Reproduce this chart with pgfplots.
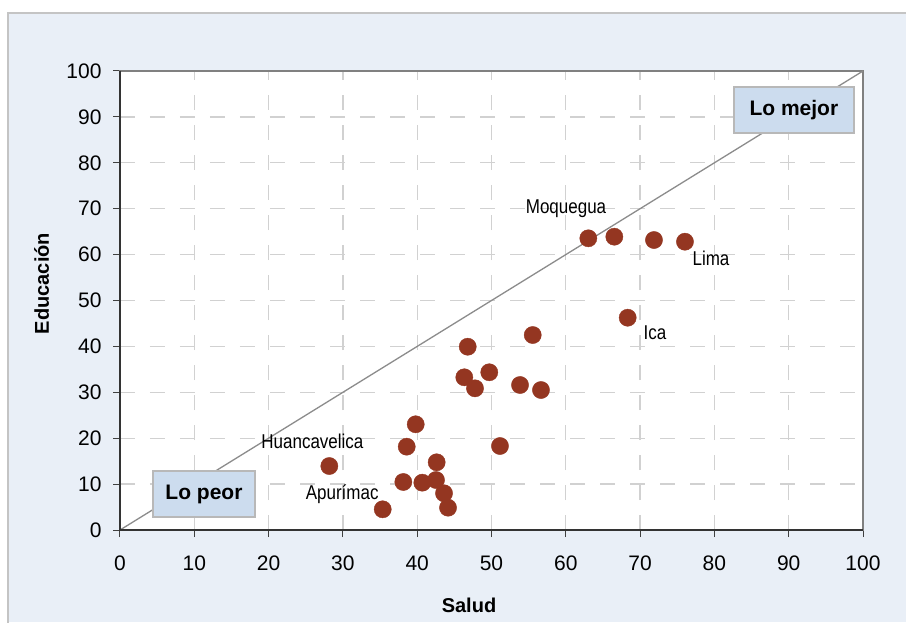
\documentclass[border=0pt]{standalone}
\usepackage{fontspec}
\setmainfont{Liberation Sans}
\newfontfamily\narrow[FakeStretch=0.85]{Liberation Sans}
\usepackage{pgfplots}
\pgfplotsset{compat=1.18}
\definecolor{bgblue}{HTML}{E9EFF7}
\definecolor{boxblue}{HTML}{CCDCEE}
\definecolor{dotred}{HTML}{943621}
\definecolor{framegray}{HTML}{C4C4C4}
\begin{document}
\begin{tikzpicture}
\useasboundingbox (-120pt,-92pt) rectangle (786pt,530pt);
\fill[white] (-120pt,-92pt) rectangle (786pt,530pt);
\fill[bgblue] (-112pt,-92pt) rectangle (786pt,517pt);
\draw[framegray, line width=1.3pt] (-112pt,-95pt) -- (-112pt,517pt) -- (790pt,517pt);
\begin{axis}[
  at={(0pt,0pt)}, anchor=south west,
  scale only axis, width=743pt, height=459pt,
  xmin=0, xmax=100, ymin=0, ymax=100,
  xtick={0,10,...,100}, ytick={0,10,...,100},
  xtick pos=lower, ytick pos=left,
  tick align=outside, major tick length=7pt,
  tick style={black!75, line width=1pt},
  axis background/.style={fill=white},
  axis line style={draw=black!50, line width=1.2pt},
  grid=major,
  major grid style={dash pattern=on 15pt off 15pt, color=black!18, line width=1.3pt},
  /pgf/number format/assume math mode=true,
  ticklabel style={font=\fontsize{21}{24}\selectfont},
  xticklabel style={yshift=-15pt},
  yticklabel style={xshift=-8pt},
  clip=false,
]
\addplot[black!45, line width=1.3pt] coordinates {(0,0) (100,100)};
\addplot[only marks, mark=*, mark size=8.6pt, color=dotred, mark options={fill=dotred, draw=dotred}] coordinates {
(28.17,13.94) (35.36,4.51) (38.13,10.46) (38.59,18.15) (39.80,23.03)
(40.69,10.31) (42.53,10.89) (42.62,14.75) (43.61,8.00) (44.15,4.86)
(46.34,33.27) (46.80,39.93) (47.78,30.87) (49.70,34.36) (51.14,18.30)
(53.84,31.59) (55.55,42.48) (56.66,30.50) (63.03,63.55) (66.53,63.90)
(68.33,46.25) (71.87,63.18) (76.04,62.81)
};
\draw[black!80, line width=1.2pt] (axis cs:0,100) -- (axis cs:0,0) -- (axis cs:100,0);
\filldraw[fill=boxblue, draw=black!28, line width=1.2pt] (axis cs:4.44,2.83) rectangle (axis cs:18.17,12.85);
\node[font=\bfseries\fontsize{21}{24}\selectfont] at (axis cs:11.3,7.84) {Lo peor};
\filldraw[fill=boxblue, draw=black!28, line width=1.2pt] (axis cs:82.64,86.49) rectangle (axis cs:98.79,96.51);
\node[font=\bfseries\fontsize{21}{24}\selectfont] at (axis cs:90.7,91.5) {Lo mejor};
\node[anchor=base, font=\narrow\fontsize{20}{24}\selectfont, inner sep=0pt] at (axis cs:60.03,68.85) {Moquegua};
\node[anchor=base, font=\narrow\fontsize{20}{24}\selectfont, inner sep=0pt] at (axis cs:79.54,57.73) {Lima};
\node[anchor=base, font=\narrow\fontsize{20}{24}\selectfont, inner sep=0pt] at (axis cs:72.0,41.6) {Ica};
\node[anchor=base, font=\narrow\fontsize{20}{24}\selectfont, inner sep=0pt] at (axis cs:25.9,17.86) {Huancavelica};
\node[anchor=base, font=\narrow\fontsize{20}{24}\selectfont, inner sep=0pt] at (axis cs:29.9,6.75) {Apurímac};
\end{axis}
\node[font=\bfseries\fontsize{20}{24}\selectfont] at (349pt,-75pt) {Salud};
\node[font=\bfseries\fontsize{20}{24}\selectfont, rotate=90] at (-78.3pt,246.5pt) {Educación};
\end{tikzpicture}
\end{document}
